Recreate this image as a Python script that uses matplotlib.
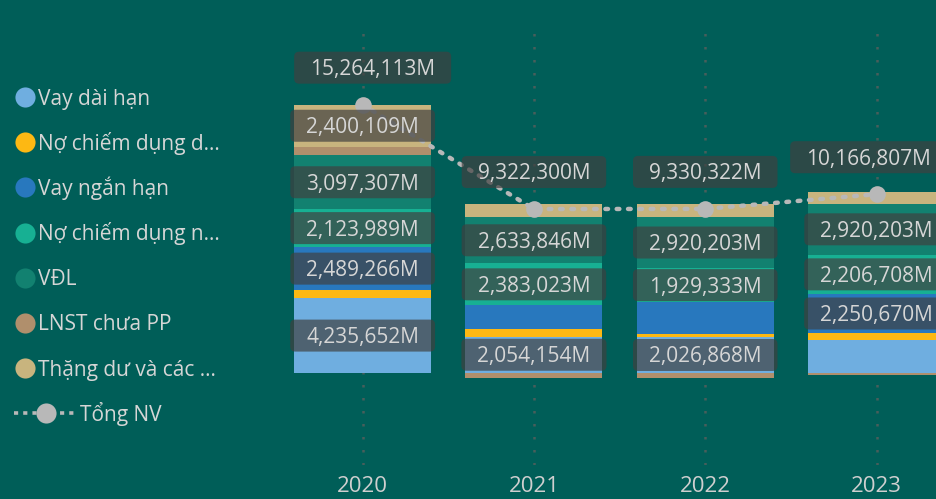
import numpy as np
import matplotlib
matplotlib.use('Agg')
import matplotlib.pyplot as plt
from matplotlib.patches import FancyBboxPatch

plt.rcParams['font.family'] = ['Open Sans', 'DejaVu Sans']

# ---------------- data ----------------
years = ['2020', '2021', '2022', '2023']
series_names = ['Vay dài hạn', 'Nợ chiếm dụng d…', 'Vay ngắn hạn',
                'Nợ chiếm dụng n…', 'VĐL', 'LNST chưa PP', 'Thặng dư và các …']
total_name = 'Tổng NV'
vay_dai_han = [4235652, 2054154, 2026868, 1850000]
no_cd_dai = [450000, 430000, 180000, 400000]
vay_ngan_han = [2489266, 1360000, 1820000, 2250670]
no_cd_ngan = [2123989, 2383023, 1929333, 2206708]
vdl = [3097307, 2633846, 2920203, 2920203]
lnst = [467790, -284000, -300000, -110774]
thang_du = [2400109, 745277, 753918, 650000]
tong_nv = [15264113, 9322300, 9330322, 10166807]

# ---------------- style ----------------
BG = '#005E58'
TXT = '#D6D6D6'
colors = ['#6FAEE0', '#FDB813', '#2878BE', '#17B093', '#128170', '#B08F6C', '#C8B47E']
LINE_C = '#B8B8B8'
W, H, DPI = 936, 499, 100
LABEL_MIN = 1.9e6

fig = plt.figure(figsize=(W / DPI, H / DPI), dpi=DPI, facecolor=BG)
ax = fig.add_axes([277 / W, (H - 465) / H, (W - 277) / W, (465 - 25) / H])
ax.set_facecolor('none')
ax.set_xlim(-0.5, -0.5 + (W - 277) / 171.3)
ax.set_ylim(-5.25e6, 19.8e6)
for s in ax.spines.values():
    s.set_visible(False)
ax.set_yticks([])
x = np.arange(len(years))
ax.set_xticks(x, years)
ax.tick_params(axis='x', length=0, pad=8, labelsize=16, labelcolor='#CFCFCF')
for xi in x:
    ax.axvline(xi, color='#485E5B', lw=1.8, ls=(0, (1, 4.2)), zorder=0)

series = [vay_dai_han, no_cd_dai, vay_ngan_han, no_cd_ngan, vdl, lnst, thang_du]
pos_bottom = np.zeros(len(years))
neg_bottom = np.zeros(len(years))
segments = []
for vals, c in zip(series, colors):
    v = np.array(vals, dtype=float)
    bottom = np.where(v >= 0, pos_bottom, neg_bottom)
    ax.bar(x, v, width=0.8, bottom=bottom, color=c, linewidth=0, zorder=2)
    for i in range(len(years)):
        if v[i] >= LABEL_MIN:
            segments.append((x[i], bottom[i] + v[i] / 2, v[i]))
    pos_bottom += np.where(v >= 0, v, 0)
    neg_bottom += np.where(v < 0, v, 0)

ax.plot(x, tong_nv, color=LINE_C, lw=3.2, ls=(0, (0.6, 1.95)),
        dash_capstyle='round', marker='o', ms=12, mec='none', zorder=4)

# ---------------- overlay (pixel coords) ----------------
lax = fig.add_axes([0, 0, 1, 1])
lax.set_xlim(0, W)
lax.set_ylim(H, 0)
lax.axis('off')
lax.set_facecolor('none')
renderer = fig.canvas.get_renderer()

FS = 15
FS_PX = FS * DPI / 72


def to_px(xd, yd):
    d = ax.transData.transform((xd, yd))
    return d[0], H - d[1]


def boxed_label(px, py, s):
    t = lax.text(px, py + 0.357 * FS_PX, s, ha='center', va='baseline',
                 fontsize=FS, color=TXT, zorder=6)
    w = t.get_window_extent(renderer).width
    lax.add_patch(FancyBboxPatch((px - w / 2 - 16, py - 16), w + 32, 32,
                                 boxstyle='round,pad=0,rounding_size=5',
                                 fc='#404040', alpha=0.69, ec='none', zorder=5))


for xi, yc, v in segments:
    px, py = to_px(xi, yc)
    boxed_label(px, py, f'{v:,.0f}M')

total_dx = [10, 0, 0, -8]
for i, v in enumerate(tong_nv):
    px, py = to_px(x[i], v)
    boxed_label(px + total_dx[i], py - 37, f'{v:,.0f}M')

# legend
for i, (name, c) in enumerate(zip(series_names, colors)):
    yy = 97 + 45.2 * i
    lax.plot(25, yy, 'o', ms=14.5, color=c, mec='none')
    lax.text(38, yy + 7.5, name, fontsize=15, color=TXT, ha='left', va='baseline')
yy = 97 + 45.2 * len(series_names)
lax.plot([14, 76], [yy, yy], color=LINE_C, lw=2.6, ls=(0, (1.15, 1.4)))
lax.plot(45.7, yy, 'o', ms=14.5, color=LINE_C, mec='none')
lax.text(80, yy + 7.5, total_name, fontsize=15, color=TXT, ha='left', va='baseline')

fig.savefig('out.png', dpi=DPI, facecolor=BG)
